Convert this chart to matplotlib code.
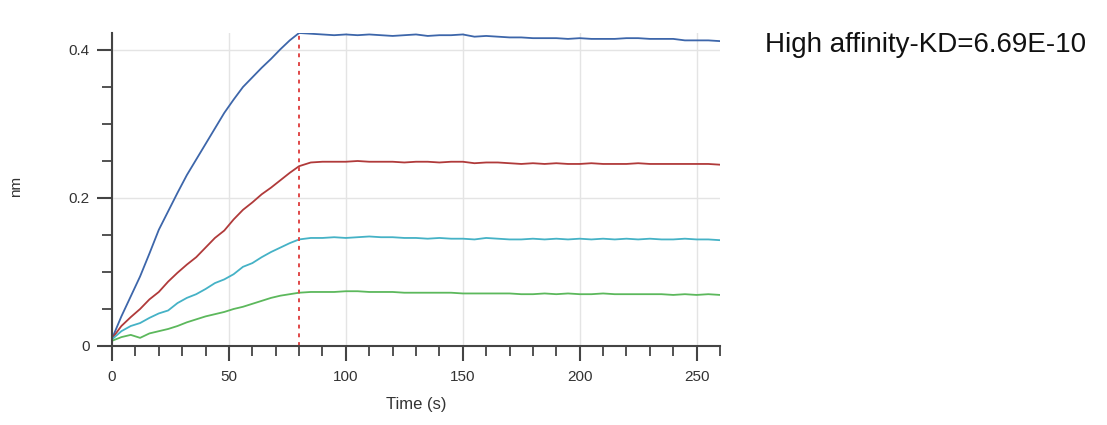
import matplotlib
matplotlib.use('Agg')
import matplotlib.pyplot as plt
from matplotlib.ticker import MultipleLocator, FuncFormatter

plt.rcParams['font.family'] = ['Liberation Sans', 'DejaVu Sans']

# association phase (0-80 s) and dissociation phase (85-260 s)
t_assoc = list(range(0, 81, 4))
t_dissoc = list(range(85, 261, 5))

blue_assoc = [0.010, 0.040, 0.067, 0.094, 0.125, 0.157, 0.182, 0.207, 0.231, 0.252, 0.273,
              0.294, 0.315, 0.333, 0.350, 0.363, 0.376, 0.388, 0.401, 0.413, 0.423]
red_assoc = [0.010, 0.027, 0.039, 0.050, 0.063, 0.073, 0.087, 0.099, 0.110, 0.120, 0.133,
             0.146, 0.156, 0.171, 0.184, 0.194, 0.205, 0.214, 0.224, 0.234, 0.243]
cyan_assoc = [0.009, 0.020, 0.027, 0.031, 0.038, 0.044, 0.048, 0.058, 0.065, 0.070, 0.077,
              0.085, 0.090, 0.097, 0.107, 0.112, 0.120, 0.127, 0.133, 0.139, 0.144]
green_assoc = [0.007, 0.012, 0.015, 0.011, 0.017, 0.020, 0.023, 0.027, 0.032, 0.036, 0.040,
               0.043, 0.046, 0.050, 0.053, 0.057, 0.061, 0.065, 0.068, 0.070, 0.072]

blue_dissoc = [0.422, 0.421, 0.420, 0.421, 0.420, 0.421, 0.420, 0.419, 0.420, 0.421, 0.419,
               0.420, 0.420, 0.421, 0.418, 0.419, 0.418, 0.417, 0.417, 0.416, 0.416, 0.416,
               0.415, 0.416, 0.415, 0.415, 0.415, 0.416, 0.416, 0.415, 0.415, 0.415, 0.413,
               0.413, 0.413, 0.412]
red_dissoc = [0.248, 0.249, 0.249, 0.249, 0.250, 0.249, 0.249, 0.249, 0.248, 0.249, 0.249,
              0.248, 0.249, 0.249, 0.247, 0.248, 0.248, 0.247, 0.246, 0.247, 0.246, 0.247,
              0.246, 0.246, 0.247, 0.246, 0.246, 0.246, 0.247, 0.246, 0.246, 0.246, 0.246,
              0.246, 0.246, 0.245]
cyan_dissoc = [0.146, 0.146, 0.147, 0.146, 0.147, 0.148, 0.147, 0.147, 0.146, 0.146, 0.145,
               0.146, 0.145, 0.145, 0.144, 0.146, 0.145, 0.144, 0.144, 0.145, 0.144, 0.145,
               0.144, 0.145, 0.144, 0.145, 0.144, 0.145, 0.144, 0.145, 0.144, 0.144, 0.145,
               0.144, 0.144, 0.143]
green_dissoc = [0.073, 0.073, 0.073, 0.074, 0.074, 0.073, 0.073, 0.073, 0.072, 0.072, 0.072,
                0.072, 0.072, 0.071, 0.071, 0.071, 0.071, 0.071, 0.070, 0.070, 0.071, 0.070,
                0.071, 0.070, 0.070, 0.071, 0.070, 0.070, 0.070, 0.070, 0.070, 0.069, 0.070,
                0.069, 0.070, 0.069]

series = [
    (blue_assoc, blue_dissoc, '#3d66aa'),
    (red_assoc, red_dissoc, '#b03a3a'),
    (cyan_assoc, cyan_dissoc, '#45b2c6'),
    (green_assoc, green_dissoc, '#5cb85c'),
]
switch_time = 80
kd_text = 'High affinity-KD=6.69E-10'

fig = plt.figure(figsize=(11.07, 4.25), dpi=100)
ax = fig.add_axes([0.1012, 0.1859, 0.5492, 0.7365])

for assoc, dissoc, color in series:
    ax.plot(t_assoc + t_dissoc, assoc + dissoc, '-', color=color, linewidth=1.3)

ax.axvline(switch_time, color='#e04848', linestyle=(0, (2, 2.5)), linewidth=1.4)

ax.set_xlim(0, 260)
ax.set_ylim(0, 0.423)
ax.xaxis.set_major_locator(MultipleLocator(50))
ax.xaxis.set_minor_locator(MultipleLocator(10))
ax.yaxis.set_major_locator(MultipleLocator(0.2))
ax.yaxis.set_minor_locator(MultipleLocator(0.05))
ax.yaxis.set_major_formatter(FuncFormatter(lambda v, p: '0' if v == 0 else '%.1f' % v))

ax.grid(True, which='major', color='#e4e4e4', linewidth=1.0)
ax.set_axisbelow(True)

for side in ['top', 'right']:
    ax.spines[side].set_visible(False)
for side in ['left', 'bottom']:
    ax.spines[side].set_color('#444444')
    ax.spines[side].set_linewidth(1.5)

ax.tick_params(which='major', direction='out', length=11, width=1.5, color='#444444',
               labelsize=11, labelcolor='#333333', pad=5)
ax.tick_params(axis='x', which='major', pad=6)
ax.tick_params(which='minor', direction='out', length=7, width=1.3, color='#444444')

ax.set_xlabel('Time (s)', fontsize=12, color='#333333', labelpad=10)
ax.set_ylabel('nm', fontsize=11, color='#333333')
ax.yaxis.set_label_coords(-0.147, 0.51)

fig.text(0.691, 0.893, kd_text, fontsize=20, color='#111111', va='center', ha='left')

fig.savefig('out.png', dpi=100)
